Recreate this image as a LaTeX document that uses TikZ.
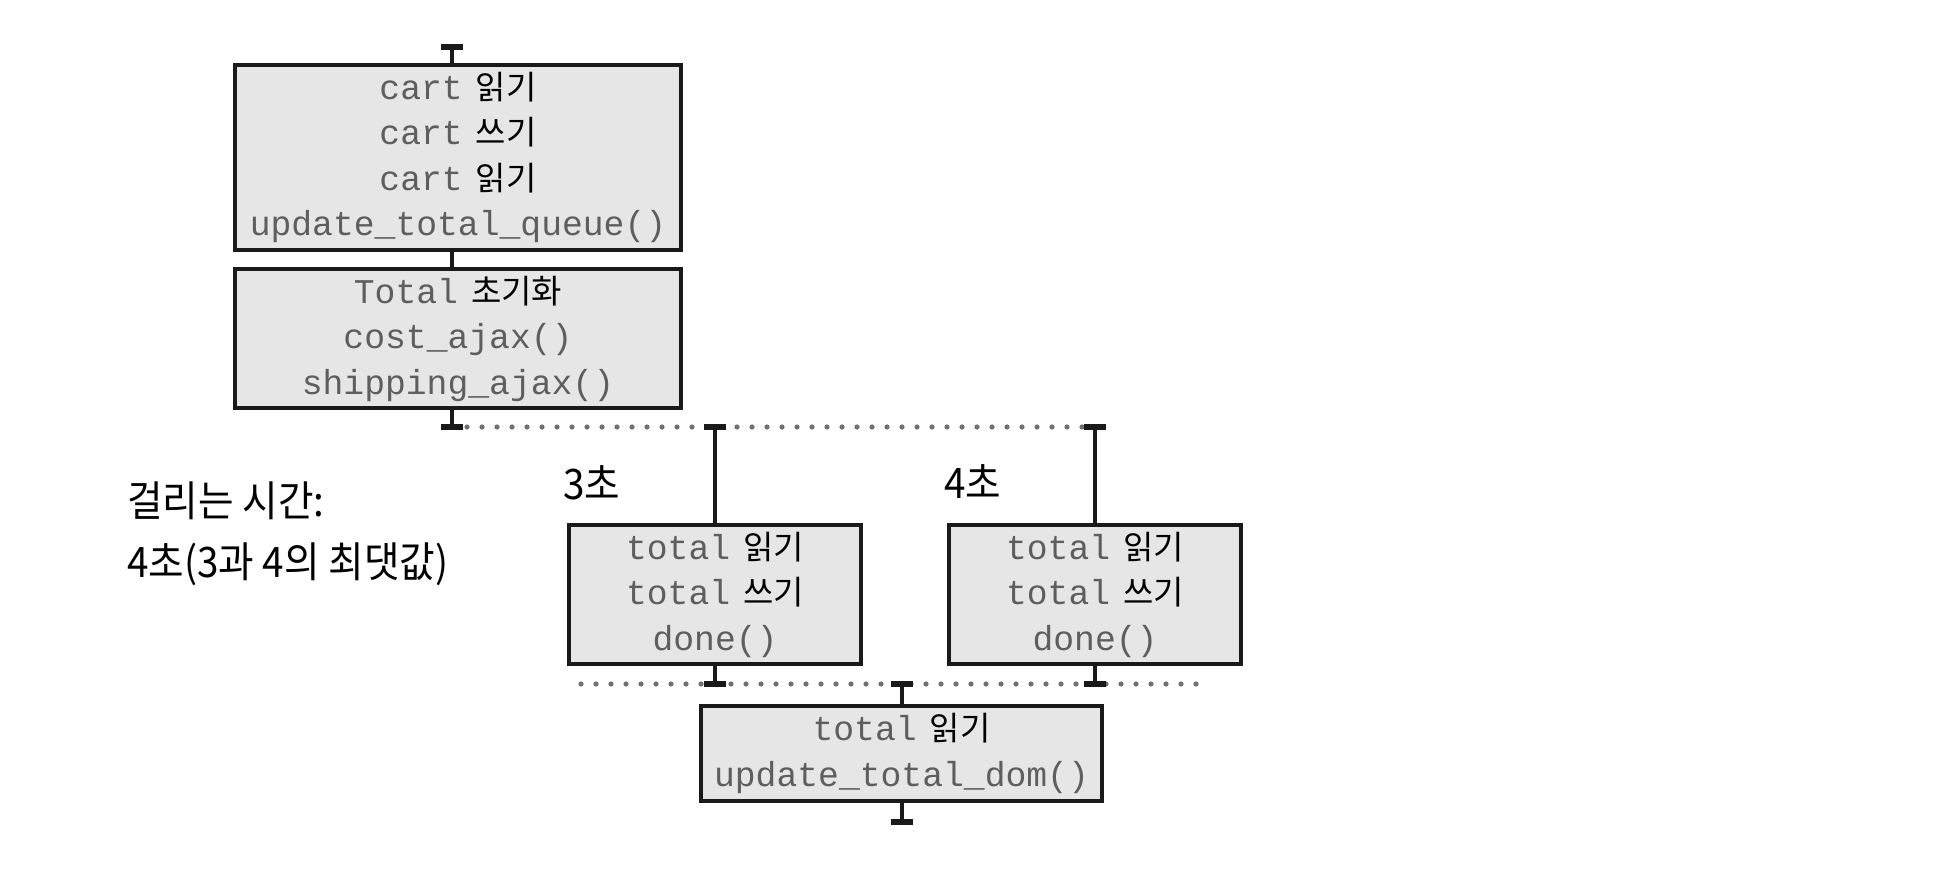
\documentclass[tikz,border=0pt]{standalone}
\usepackage{fontspec}
\setmainfont{Noto Sans CJK KR}
\setmonofont{Liberation Mono}
\newfontfamily\narrowkr[FakeStretch=0.92]{Noto Sans CJK KR}
\usetikzlibrary{arrows.meta}
\definecolor{boxfill}{HTML}{E6E6E6}
\definecolor{codegray}{HTML}{5E5E5E}
\definecolor{dotgray}{HTML}{707070}
\definecolor{edge}{HTML}{1A1A1A}
\newcommand{\cd}[1]{{\fontsize{34.7}{45.5}\selectfont\ttfamily\color{codegray}#1}}
\newcommand{\op}[2]{\cd{#1}\hspace{13pt}#2}

\begin{document}
\begin{tikzpicture}[x=1pt, y=-1pt,
  task/.style={draw=edge, line width=4pt, fill=boxfill, inner sep=0pt, align=center, font=\fontsize{33}{45.5}\selectfont},
  link/.style={draw=edge, line width=4pt},
  tick/.style={link, shorten >=-3pt, -{Bar[width=22pt, line width=6pt]}},
  sync/.style={draw=dotgray, line width=5.2pt, line cap=round, dash pattern=on 0pt off 15pt},
  note/.style={font=\narrowkr\fontsize{42}{61}\selectfont, inner sep=0pt}]
\useasboundingbox (0,0) rectangle (1934,874);
\node[task, minimum width=446pt, minimum height=185pt] (readcart) at (458,157.5) {\op{cart}{읽기}\\\op{cart}{쓰기}\\\op{cart}{읽기}\\\cd{update\_total\_queue()}};
\node[task, minimum width=446pt, minimum height=139pt] (inittotal) at (458,338.5) {\op{Total}{초기화}\\\cd{cost\_ajax()}\\\cd{shipping\_ajax()}};
\node[task, minimum width=292pt, minimum height=139pt] (totalL) at (715,594.5) {\op{total}{읽기}\\\op{total}{쓰기}\\\cd{done()}};
\node[task, minimum width=292pt, minimum height=139pt] (totalR) at (1095,594.5) {\op{total}{읽기}\\\op{total}{쓰기}\\\cd{done()}};
\node[task, minimum width=401pt, minimum height=95pt] (domupdate) at (901.5,753.5) {\op{total}{읽기}\\\cd{update\_total\_dom()}};
\coordinate (start) at (452,47);
\coordinate (fork) at (452,427);
\coordinate (forkL) at (715,427);
\coordinate (forkR) at (1095,427);
\coordinate (joinL) at (581,684);
\coordinate (joinR) at (1199,684);
\coordinate (doneL) at (715,684);
\coordinate (doneR) at (1095,684);
\coordinate (join) at (902,684);
\coordinate (finish) at (902,822);
\draw[sync] (fork) -- (forkR);
\draw[sync] (joinL) -- (joinR);
\draw[tick] (readcart.north -| start) -- (start);
\draw[link] (readcart.south -| start) -- (inittotal.north -| start);
\draw[tick] (inittotal.south -| fork) -- (fork);
\draw[tick] (totalL.north) -- (forkL);
\draw[tick] (totalR.north) -- (forkR);
\draw[tick] (totalL.south) -- (doneL);
\draw[tick] (totalR.south) -- (doneR);
\draw[tick] (domupdate.north -| join) -- (join);
\draw[tick] (domupdate.south -| finish) -- (finish);
\node[note] (wait3) at (592,483) {3초};
\node[note] (wait4) at (973,482) {4초};
\node[note, anchor=west, align=left] (elapsed) at (127,534) {걸리는 시간:\\4초(3과 4의 최댓값)};
\end{tikzpicture}
\end{document}
